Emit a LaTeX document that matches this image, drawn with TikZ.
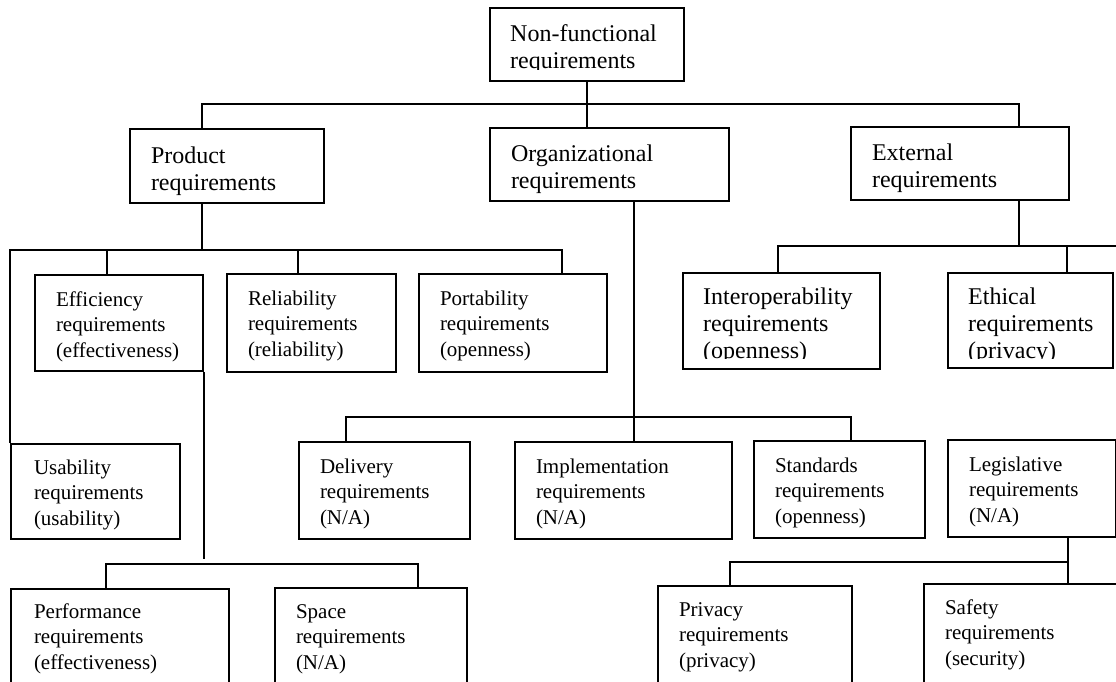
\documentclass[tikz,border=0pt]{standalone}
\usepackage{fontspec}
\setmainfont{Liberation Serif}
\usetikzlibrary{calc}
\hyphenpenalty=10000
\exhyphenpenalty=10000

\tikzset{
  wire/.style={line width=2pt},
  frame/.style={draw, line width=2pt, rectangle, anchor=north west, inner sep=0pt},
  cell/.style={frame, inner xsep=21pt, align=left},
  big/.style={font=\fontsize{24}{27}\selectfont},
  small/.style={font=\fontsize{21}{25.5}\selectfont},
  label/.style={anchor=base west, inner sep=0pt, align=left, text width=170pt},
}

\begin{document}
\begin{tikzpicture}[x=1pt, y=-1pt]
\useasboundingbox (0,0) rectangle (1116,681);
\fill[white] (0,0) rectangle (1116,681);
\clip (0,0) rectangle (1116,681);

% bus heights
\coordinate (b1) at (0,104);
\coordinate (b2) at (0,250);
\coordinate (b3) at (0,564);
\coordinate (b4) at (0,417);
\coordinate (b5) at (0,246);
\coordinate (b6) at (0,562);

% root
\node[frame, minimum width=194pt, minimum height=73pt] (root) at (489,7) {};
\begin{scope}
  \clip (root.north west) rectangle ($(root.north east)+(0,62.5)$);
  \node[label, big] (rootText) at ($(root.north west)+(21,34)$) {Non-functional\\requirements};
\end{scope}

% first level
\node[cell, big, text width=152pt, text height=34pt, text depth=40pt] (product) at (129,128) {Product\\requirements};
\node[cell, big, text width=197pt, text height=33pt, text depth=40pt] (org) at (489,127) {Organizational\\requirements};
\node[cell, big, text width=176pt, text height=33pt, text depth=40pt] (external) at (850,126) {External\\requirements};

% product requirements
\node[cell, small, text width=126pt, text height=31pt, text depth=65pt] (efficiency) at (34,274) {Efficiency\\requirements\\(effectiveness)};
\node[cell, small, text width=127pt, text height=31pt, text depth=67pt] (reliability) at (226,273) {Reliability\\requirements\\(reliability)};
\node[cell, small, text width=146pt, text height=31pt, text depth=67pt] (portability) at (418,273) {Portability\\requirements\\(openness)};
\node[cell, small, inner xsep=23pt, text width=123pt, text height=30pt, text depth=65pt] (usability) at (10,443) {Usability\\requirements\\(usability)};
\node[cell, small, inner xsep=23pt, text width=172pt, text height=29pt, text depth=83pt] (performance) at (10,588) {Performance\\requirements\\(effectiveness)};
\node[cell, small, text width=150pt, text height=30pt, text depth=83pt] (space) at (274,587) {Space\\requirements\\(N/A)};

% organizational requirements
\node[cell, small, text width=129pt, text height=31pt, text depth=66pt] (delivery) at (298,441) {Delivery\\requirements\\(N/A)};
\node[cell, small, text width=175pt, text height=31pt, text depth=66pt] (implementation) at (514,441) {Implementation\\requirements\\(N/A)};
\node[cell, small, text width=129pt, text height=31pt, text depth=66pt] (standards) at (753,440) {Standards\\requirements\\(openness)};

% external requirements
\node[frame, minimum width=197pt, minimum height=96pt] (interop) at (682,272) {};
\begin{scope}
  \clip (interop.north west) rectangle ($(interop.north east)+(0,86)$);
  \node[label, big] (interopText) at ($(interop.north west)+(21,32)$) {Interoperability\\requirements\\(openness)};
\end{scope}
\node[frame, minimum width=165pt, minimum height=95pt] (ethical) at (947,272) {};
\begin{scope}
  \clip (ethical.north west) rectangle ($(ethical.north east)+(0,86)$);
  \node[label, big] (ethicalText) at ($(ethical.north west)+(21,32)$) {Ethical\\requirements\\(privacy)};
\end{scope}
\node[cell, small, text width=126pt, text height=31pt, text depth=66pt] (legislative) at (947,439) {Legislative\\requirements\\(N/A)};
\node[cell, small, text width=152pt, text height=30pt, text depth=85pt] (privacy) at (657,585) {Privacy\\requirements\\(privacy)};
\node[cell, small, text width=168pt, text height=30pt, text depth=87pt] (safety) at (923,583) {Safety\\requirements\\(security)};

% connection points on the boxes
\path ([xshift=73pt]product.north west) coordinate (prodIn)
      ([xshift=73pt]product.south west) coordinate (prodOut)
      ([xshift=145pt]org.south west) coordinate (orgOut)
      ([xshift=169pt]external.north west) coordinate (extIn)
      ([xshift=169pt]external.south west) coordinate (extOut)
      ([xshift=73pt]efficiency.north west) coordinate (effIn)
      ([xshift=72pt]reliability.north west) coordinate (relIn)
      ([xshift=144pt]portability.north west) coordinate (porIn)
      ([xshift=96pt]performance.north west) coordinate (perfIn)
      ([xshift=144pt]space.north west) coordinate (spaIn)
      ([xshift=48pt]delivery.north west) coordinate (delIn)
      ([xshift=98pt]standards.north west) coordinate (stdIn)
      ([xshift=96pt]interop.north west) coordinate (intIn)
      ([xshift=120pt]ethical.north west) coordinate (ethIn)
      ([xshift=121pt]legislative.south west) coordinate (legOut)
      ([xshift=73pt]privacy.north west) coordinate (priIn);

% top level
\draw[wire] (root.south) -- (root.south |- org.north);
\draw[wire] (prodIn) -- (prodIn |- b1) -| (extIn);

% product branch
\draw[wire] (prodOut) -- (prodOut |- b2);
\draw[wire] (usability.north west) -- (usability.north west |- b2) -| (porIn);
\draw[wire] (effIn) -- (effIn |- b2);
\draw[wire] (relIn) -- (relIn |- b2);
\draw[wire] (efficiency.south east) -- ($(efficiency.south east |- b3)+(0,-5)$);
\draw[wire] (perfIn) -- (perfIn |- b3) -| (spaIn);

% organizational branch
\draw[wire] (orgOut) -- (orgOut |- implementation.north);
\draw[wire] (delIn) -- (delIn |- b4) -| (stdIn);

% external branch
\draw[wire] (extOut) -- (extOut |- b5);
\draw[wire] (intIn) -- (intIn |- b5) -| (legislative.north east);
\draw[wire] (ethIn) -- (ethIn |- b5);
\draw[wire] (legOut) -- (legOut |- safety.north);
\draw[wire] (priIn) -- (priIn |- b6) -- (legOut |- b6);
\end{tikzpicture}
\end{document}
